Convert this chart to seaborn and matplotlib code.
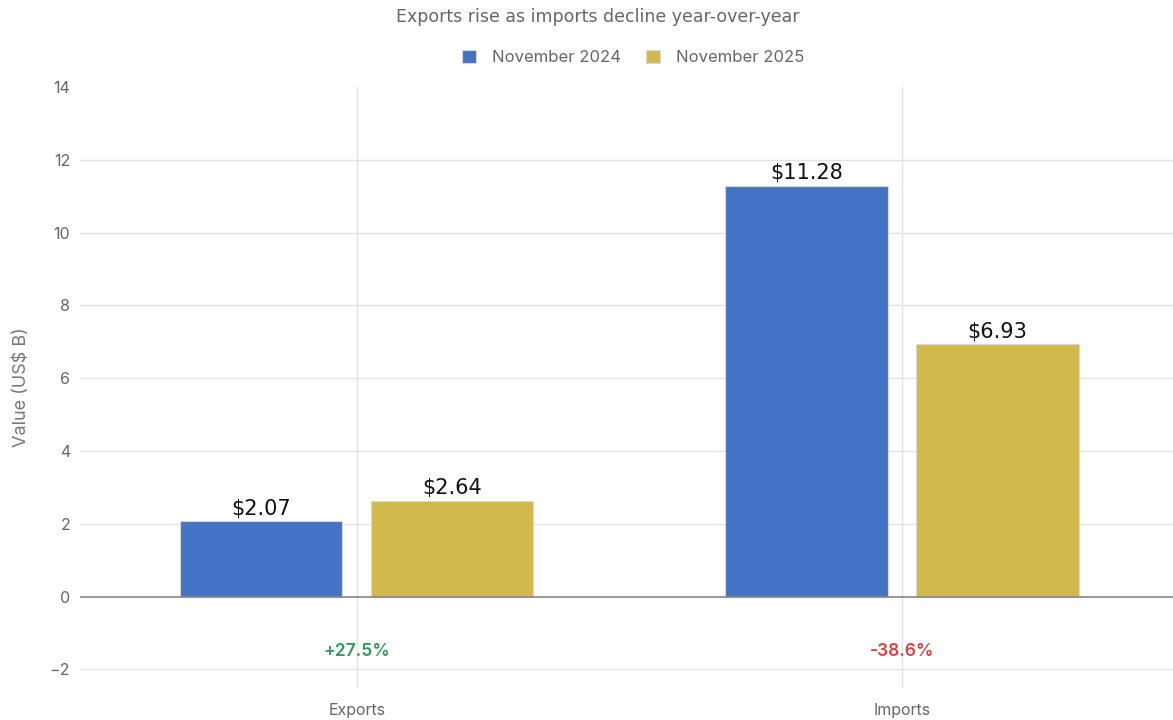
import matplotlib
matplotlib.use("Agg")
import matplotlib.pyplot as plt
import seaborn as sns
import pandas as pd

categories = ["Exports", "Imports"]
periods = ["November 2024", "November 2025"]
nov_2024 = [2.07, 11.28]
nov_2025 = [2.64, 6.93]
changes = ["+27.5%", "-38.6%"]
change_colors = ["#2e9a5b", "#e0403f"]

df = pd.DataFrame({
    "category": categories * 2,
    "period": [periods[0]] * 2 + [periods[1]] * 2,
    "value": nov_2024 + nov_2025,
})

sns.set_style("white")
plt.rcParams["font.family"] = ["Inter", "DejaVu Sans"]

fig, ax = plt.subplots(figsize=(11.73, 7.2), dpi=100)
fig.subplots_adjust(left=0.068, right=1.0, top=0.879, bottom=0.045)

sns.barplot(data=df, x="category", y="value", hue="period",
            palette=["#4472c4", "#d2b94b"], saturation=1, width=0.7, gap=0.15,
            edgecolor="#d9d9d9", linewidth=0.8, ax=ax, zorder=3)

for cont in ax.containers:
    ax.bar_label(cont, labels=[f"${v:.2f}" for v in cont.datavalues],
                 padding=2, fontsize=15, color="#111111", family="DejaVu Sans")

for i, (txt, col) in enumerate(zip(changes, change_colors)):
    ax.text(i, -1.5, txt, ha="center", va="center", fontsize=12.5,
            fontweight="semibold", color=col)

ax.set_ylim(-2.5, 14)
ax.set_xlim(-0.508, 1.497)
yt = list(range(-2, 15, 2))
ax.set_yticks(yt)
ax.set_yticklabels([f"{t}" if t >= 0 else f"\u2212{abs(t)}" for t in yt])
ax.grid(axis="y", color="#e2e2e2", linewidth=1, zorder=0)
ax.grid(axis="x", color="#e2e2e2", linewidth=1, zorder=0)
ax.get_ygridlines()[-1].set_visible(False)
ax.axhline(0, color="#888888", linewidth=1.2, zorder=4)
for s in ax.spines.values():
    s.set_visible(False)
ax.tick_params(axis="y", length=5, color="#dedede", labelsize=11.5, labelcolor="#666666", pad=2)
ax.tick_params(axis="x", length=5, color="#dedede", labelsize=11.5, labelcolor="#666666", pad=6)
ax.set_xlabel("")
ax.set_ylabel("Value (US$ B)", fontsize=13, color="#777777", labelpad=14)

ax.get_legend().remove()
handles, labels = ax.get_legend_handles_labels()
fig.legend(handles, labels, loc="center", bbox_to_anchor=(0.54, 0.92), ncol=2,
           frameon=False, fontsize=12, labelcolor="#666666", handlelength=0.8,
           handleheight=0.8, handletextpad=1.0, columnspacing=1.5)

fig.text(0.51, 0.977, "Exports rise as imports decline year-over-year", ha="center",
         va="center", fontsize=12.5, color="#666666", family="DejaVu Sans")

fig.savefig("out.png", dpi=100)
